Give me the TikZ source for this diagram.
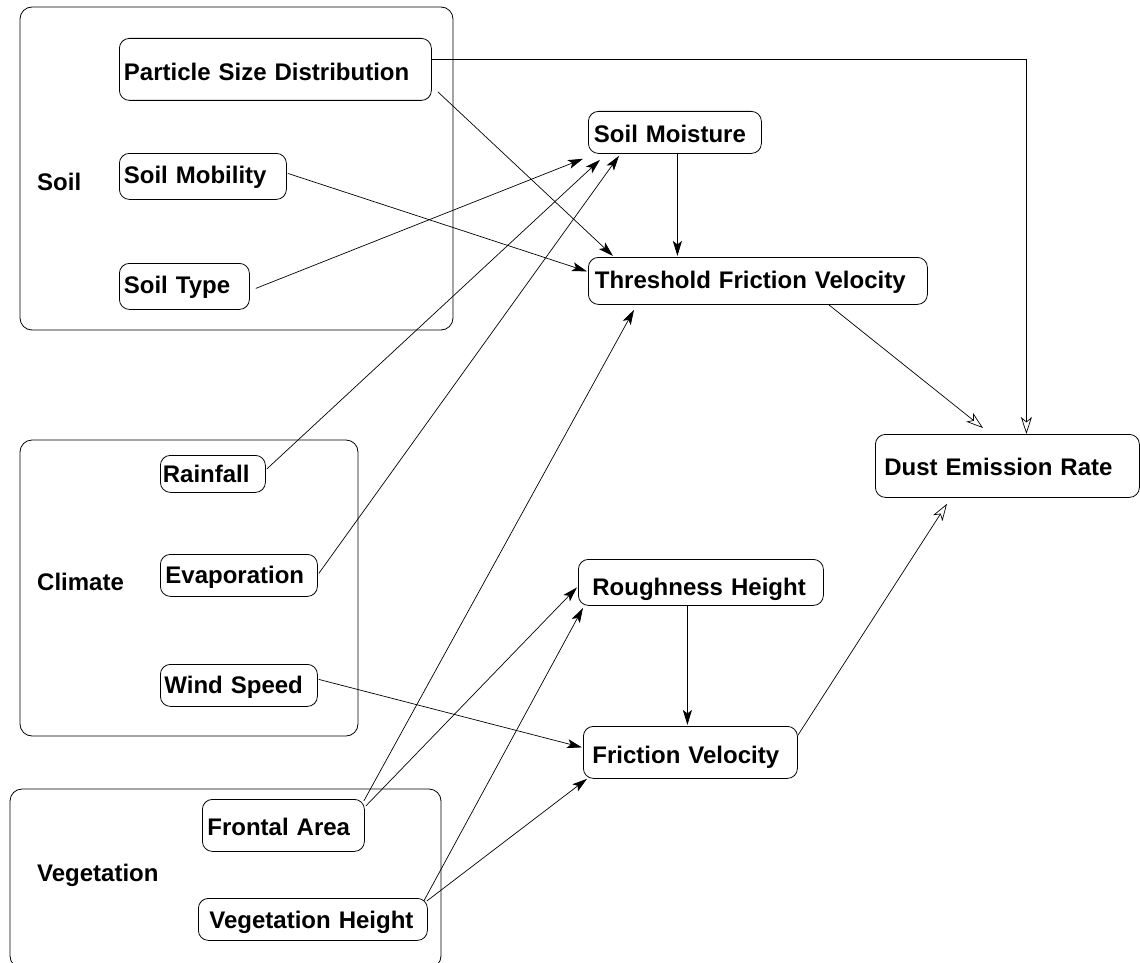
\documentclass[tikz,border=0pt]{standalone}
\usepackage{fontspec}
\setmainfont{Liberation Sans}
\usetikzlibrary{arrows.meta,calc}
\begin{document}
\begin{tikzpicture}[x=1pt,y=-1pt,
  grp/.style={draw, rounded corners=12pt, line width=0.8pt},
  box/.style={draw, rounded corners=10pt, line width=0.8pt, anchor=north west, align=left, inner ysep=0pt, font=\bfseries\fontsize{24}{28}\selectfont},
  lab/.style={anchor=base west, inner sep=0pt, font=\bfseries\fontsize{24}{28}\selectfont},
  arr/.style={-{Stealth[length=15pt,width=9pt,inset=3.5pt]}, line width=0.7pt},
  oarr/.style={-{Stealth[open,length=17pt,width=11pt,inset=4.5pt]}, line width=0.7pt}
]
\useasboundingbox (0,0) rectangle (1140,963);

% groups
\draw[grp] (20,7) rectangle (453,330);
\draw[grp] (20,440) rectangle (358,736);
\draw[grp] (10,789) rectangle (441,968);
\node[lab] (lsoil) at (37,190) {Soil};
\node[lab] (lclim) at (37,590) {Climate};
\node[lab] (lveg) at (37,881) {Vegetation};

% nodes
\node[box, minimum width=312pt, minimum height=62pt, inner xsep=4.5pt, text width=303pt, text height=26pt, text depth=4pt] (psd) at (119,38) {\mbox{Particle Size Distribution}};
\node[box, minimum width=167pt, minimum height=46pt, inner xsep=4.5pt, text width=158pt, text height=22pt, text depth=8pt] (smob) at (119,153) {\mbox{Soil Mobility}};
\node[box, minimum width=130pt, minimum height=46pt, inner xsep=4.5pt, text width=121pt, text height=22pt, text depth=8pt] (stype) at (119,263) {\mbox{Soil Type}};
\node[box, minimum width=173pt, minimum height=42pt, inner xsep=5.5pt, text width=162pt, text height=25pt, text depth=5pt] (sm) at (588,111) {\mbox{Soil Moisture}};
\node[box, minimum width=339pt, minimum height=47pt, inner xsep=6.5pt, text width=326pt, text height=22.5pt, text depth=7.5pt] (tfv) at (588,257) {\mbox{Threshold Friction Velocity}};
\node[box, minimum width=264pt, minimum height=63pt, inner xsep=9pt, text width=246pt, text height=24.5pt, text depth=5.5pt] (der) at (875,434) {\mbox{Dust Emission Rate}};
\node[box, minimum width=105pt, minimum height=37pt, inner xsep=2.5pt, text width=100pt, text height=23.5pt, text depth=6.5pt] (rain) at (160,455) {\mbox{Rainfall}};
\node[box, minimum width=157pt, minimum height=42pt, inner xsep=5pt, text width=147pt, text height=23pt, text depth=7pt] (evap) at (160,554) {\mbox{Evaporation}};
\node[box, minimum width=157pt, minimum height=42pt, inner xsep=4pt, text width=149pt, text height=23pt, text depth=7pt] (wind) at (160,664) {\mbox{Wind Speed}};
\node[box, minimum width=245pt, minimum height=46pt, inner xsep=14pt, text width=217pt, text height=28pt, text depth=2pt] (rh) at (578,559) {\mbox{Roughness Height}};
\node[box, minimum width=214pt, minimum height=52pt, inner xsep=9pt, text width=196pt, text height=26pt, text depth=4pt] (fv) at (583,726) {\mbox{Friction Velocity}};
\node[box, minimum width=162pt, minimum height=52pt, inner xsep=5pt, text width=152pt, text height=25pt, text depth=5pt] (fa) at (202,799) {\mbox{Frontal Area}};
\node[box, minimum width=229pt, minimum height=42pt, inner xsep=11pt, text width=207pt, text height=24pt, text depth=6pt] (vh) at (198,898) {\mbox{Vegetation Height}};

% connectors
\draw[oarr] ($(psd.east)+(0,-10)$) -| ($(der.north)+(19,0)$);
\draw[arr] ($(psd.south east)+(6,-9)$) -- ($(tfv.north west)+(25,-1)$);
\draw[arr] ($(smob.east)+(1,-3)$) -- ($(tfv.west)+(-1,-9.5)$);
\draw[arr] ($(stype.east)+(6,2)$) -- ($(sm.south west)+(-5,5)$);
\draw[arr] ($(rain.north east)+(1,14)$) -- ($(sm.south west)+(12,6)$);
\draw[arr] ($(evap.east)+(1,-2)$) -- ($(sm.south west)+(31,2)$);
\draw[arr] ($(sm.south)+(2.5,0)$) -- ($(tfv.north)+(-80.5,-1)$);
\draw[oarr] ($(tfv.south east)+(-99,0)$) -- ($(der.north west)+(108,-6)$);
\draw[arr] ($(fa.north east)+(-1,2)$) -- ($(tfv.south west)+(46,5)$);
\draw[arr] ($(fa.north east)+(1,7)$) -- ($(rh.west)+(-1,5)$);
\draw[arr] ($(vh.north east)+(-4,3)$) -- ($(rh.south west)+(5,2)$);
\draw[arr] ($(vh.north east)+(-1,3)$) -- ($(fv.south west)+(4,0)$);
\draw[arr] ($(wind.east)+(1,-6)$) -- ($(fv.west)+(-1,-5)$);
\draw[arr] ($(rh.south)+(-13.5,0)$) -- ($(fv.north)+(-3,-1)$);
\draw[oarr] ($(fv.east)+(0,-17)$) -- ($(der.south west)+(72,6)$);
\end{tikzpicture}
\end{document}
